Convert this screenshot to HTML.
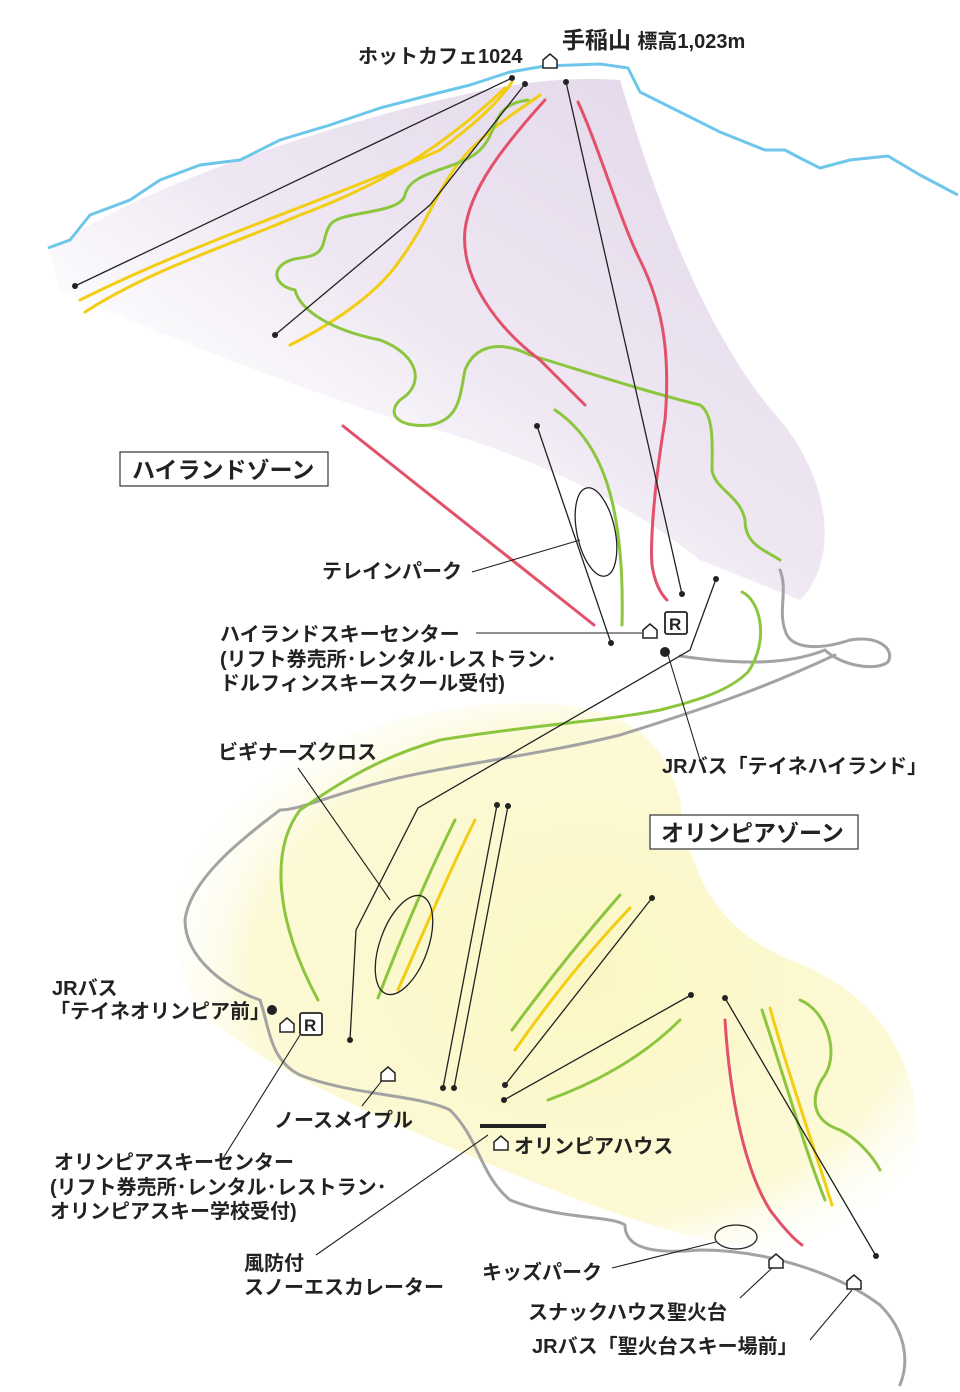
<!DOCTYPE html>
<html><head><meta charset="utf-8"><style>
html,body{margin:0;padding:0;background:#fff;}
svg{display:block;}
text{font-family:"Liberation Sans","Noto Sans CJK JP",sans-serif;font-weight:bold;fill:#222;}
</style></head><body>
<svg width="960" height="1392" viewBox="0 0 960 1392" xmlns="http://www.w3.org/2000/svg">
<defs>
<linearGradient id="pg" x1="0.9" y1="0.1" x2="0.1" y2="0.9">
<stop offset="0" stop-color="#e4d9eb"/><stop offset="0.5" stop-color="#efe8f3"/><stop offset="0.85" stop-color="#ffffff" stop-opacity="0.6"/><stop offset="1" stop-color="#ffffff" stop-opacity="0"/>
</linearGradient>
<radialGradient id="yg" cx="0.55" cy="0.5" r="0.6">
<stop offset="0" stop-color="#fbf7c4"/><stop offset="0.75" stop-color="#fcf9d6"/><stop offset="1" stop-color="#ffffff" stop-opacity="0"/>
</radialGradient>
</defs>
<path d="M50,250 C120,200 250,150 400,110 C480,90 540,75 620,80 C650,180 700,330 780,420 C830,480 840,560 800,600 L700,560 C600,480 480,440 400,420 C300,390 150,330 60,290 Z" fill="url(#pg)"/>
<path d="M190,860 C230,790 330,720 480,705 C600,695 660,720 680,800 C690,880 720,930 790,960 C870,990 915,1050 918,1130 C920,1200 880,1250 800,1250 C700,1250 600,1210 480,1160 C360,1110 250,1060 200,1010 C170,970 170,910 190,860 Z" fill="url(#yg)"/>
<polyline points="48,248 70,240 90,215 130,200 160,180 200,165 240,160 280,140 330,125 380,108 430,95 470,85 510,72 545,66 600,64 628,68 640,92 680,112 720,132 765,150 785,150 800,158 820,168 850,160 888,156 920,175 958,195" fill="none" stroke="#6ec6ea" stroke-width="3" stroke-linejoin="round"/>
<g fill="none" stroke="#a3a3a3" stroke-width="3" stroke-linecap="round">
<path d="M780,570 C788,590 778,610 785,630 C790,650 820,650 850,640 C880,635 895,650 888,662 C875,672 840,665 825,650 C800,660 760,668 680,656"/>
<path d="M835,655 C760,690 700,710 620,735 C540,755 450,765 390,780 C330,795 300,810 280,810 C240,840 190,880 185,920 C185,960 230,990 260,1000 C270,1030 270,1060 300,1075 C350,1095 420,1095 450,1110 C480,1140 480,1175 510,1200 C560,1220 610,1215 625,1225 C625,1245 645,1255 700,1250 C770,1250 840,1275 880,1305 C905,1330 910,1360 900,1385"/>
</g>
<g fill="none" stroke="#f2cd12" stroke-width="3" stroke-linecap="round">
<path d="M85,312 C150,270 230,245 300,215 C380,185 440,150 505,88"/>
<path d="M80,300 C200,240 330,200 440,150 C480,120 500,100 512,82"/>
<path d="M290,345 C340,320 380,290 400,260 C430,220 440,180 470,150 C500,120 520,110 540,95"/>
<path d="M398,990 C420,940 450,870 475,820"/>
<path d="M515,1050 C550,1000 590,950 630,908"/>
<path d="M770,1008 C790,1080 815,1150 832,1205"/>
</g>
<g fill="none" stroke="#8cc63f" stroke-width="3" stroke-linecap="round">
<path d="M528,100 C490,105 500,130 480,150 C460,170 410,170 405,195 C400,215 340,210 330,225 C320,240 330,255 300,258 C270,262 270,285 295,290 C300,310 330,330 380,340 C420,355 425,385 400,400 C385,415 400,428 430,425 C460,420 460,395 465,370 C475,345 500,340 530,355 C580,370 640,390 700,405 C715,415 712,450 712,470 C715,490 740,495 745,520 C745,545 765,550 780,560"/>
<path d="M555,410 C600,440 625,500 622,625"/>
<path d="M742,592 C760,600 770,640 748,672 C730,690 700,700 660,710 C600,722 530,725 440,740 C370,760 330,790 300,810 C270,850 275,920 318,1000"/>
<path d="M378,998 C400,940 430,870 455,820"/>
<path d="M512,1030 C545,985 585,935 620,895"/>
<path d="M548,1100 C590,1085 640,1060 680,1020"/>
<path d="M762,1010 C785,1080 805,1150 825,1200"/>
<path d="M800,1000 C825,1010 840,1050 825,1075 C810,1095 810,1120 840,1130 C860,1140 875,1160 880,1170"/>
</g>
<g fill="none" stroke="#e2506a" stroke-width="3" stroke-linecap="round">
<path d="M578,102 C600,150 620,220 640,260 C665,310 670,360 665,420 C655,480 650,540 652,565 C655,585 662,595 667,600"/>
<path d="M545,100 C500,150 470,190 465,230 C460,280 500,330 540,360 C560,380 575,395 585,405"/>
<path d="M343,426 L594,625"/>
<path d="M725,1020 C730,1100 745,1170 770,1210 C785,1230 795,1240 802,1245"/>
</g>
<g fill="none" stroke="#222" stroke-width="1.3">
<path d="M75,286 L512,78"/>
<path d="M275,335 L430,205 L525,84"/>
<path d="M566,82 L682,594"/>
<path d="M537,426 L611,643"/>
<path d="M716,579 L690,650 L418,808 L356,930 L350,1040"/>
<path d="M497,805 L443,1088"/><path d="M508,806 L454,1088"/>
<path d="M652,898 L505,1085"/>
<path d="M691,995 L504,1100"/>
<path d="M725,998 L876,1256"/>
</g>
<g fill="#222">
<circle cx="75" cy="286" r="3"/><circle cx="512" cy="78" r="3"/><circle cx="275" cy="335" r="3"/><circle cx="525" cy="84" r="3"/>
<circle cx="566" cy="82" r="3"/><circle cx="682" cy="594" r="3"/><circle cx="537" cy="426" r="3"/><circle cx="611" cy="643" r="3"/>
<circle cx="716" cy="579" r="3"/><circle cx="350" cy="1040" r="3"/><circle cx="497" cy="805" r="3"/><circle cx="508" cy="806" r="3"/>
<circle cx="443" cy="1088" r="3"/><circle cx="454" cy="1088" r="3"/><circle cx="652" cy="898" r="3"/><circle cx="505" cy="1085" r="3"/>
<circle cx="691" cy="995" r="3"/><circle cx="504" cy="1100" r="3"/><circle cx="725" cy="998" r="3"/><circle cx="876" cy="1256" r="3"/>
<circle cx="665" cy="652" r="5"/><circle cx="272" cy="1010" r="5"/>
</g>
<ellipse cx="596" cy="532" rx="19" ry="45" transform="rotate(-12 596 532)" fill="none" stroke="#222" stroke-width="1.3"/>
<ellipse cx="404" cy="945" rx="24" ry="52" transform="rotate(20 404 945)" fill="none" stroke="#222" stroke-width="1.3"/>
<ellipse cx="736" cy="1237" rx="21" ry="12" fill="none" stroke="#222" stroke-width="1.3"/>
<g stroke="#222" stroke-width="1.1" fill="none">
<path d="M472,572 L580,540"/>
<path d="M476,633 L642,633"/>
<path d="M668,655 L700,760"/>
<path d="M298,768 L390,900"/>
<path d="M222,1160 L300,1035"/>
<path d="M362,1106 L384,1078"/>
<path d="M316,1255 L488,1135"/>
<path d="M612,1268 L716,1242"/>
<path d="M740,1298 L772,1268"/>
<path d="M810,1340 L852,1290"/>
</g>
<rect x="480" y="1124" width="66" height="4" fill="#222"/>
<g fill="#fff" stroke="#222" stroke-width="1.5">
<path d="M543,68 L543,60 L550,54 L557,60 L557,68 Z"/>
<path d="M643,638 L643,630 L650,624 L657,630 L657,638 Z"/>
<path d="M280,1032 L280,1024 L287,1018 L294,1024 L294,1032 Z"/>
<path d="M381,1081 L381,1073 L388,1067 L395,1073 L395,1081 Z"/>
<path d="M494,1150 L494,1142 L501,1136 L508,1142 L508,1150 Z"/>
<path d="M769,1268 L769,1260 L776,1254 L783,1260 L783,1268 Z"/>
<path d="M847,1289 L847,1281 L854,1275 L861,1281 L861,1289 Z"/>
</g>
<g fill="#fff" stroke="#222" stroke-width="1.8">
<rect x="665" y="612" width="22" height="22" rx="2"/>
<rect x="300" y="1013" width="22" height="22" rx="2"/>
</g>
<text x="669" y="630" font-size="17">R</text>
<text x="304" y="1031" font-size="17">R</text>
<rect x="120" y="452" width="208" height="34" fill="#fff" stroke="#333" stroke-width="1.2"/>
<text x="132" y="478" font-size="23">ハイランドゾーン</text>
<rect x="650" y="815" width="208" height="34" fill="#fff" stroke="#333" stroke-width="1.2"/>
<text x="661" y="841" font-size="23">オリンピアゾーン</text>
<text x="358" y="63" font-size="20">ホットカフェ1024</text>
<text x="562" y="48" font-size="23">手稲山 <tspan font-size="20">標高1,023m</tspan></text>
<text x="322" y="578" font-size="20">テレインパーク</text>
<text x="220" y="641" font-size="20">ハイランドスキーセンター</text>
<text x="220" y="666" font-size="20" font-weight="normal">(リフト券売所･レンタル･レストラン･</text>
<text x="220" y="690" font-size="20" font-weight="normal">ドルフィンスキースクール受付)</text>
<text x="218" y="759" font-size="20">ビギナーズクロス</text>
<text x="662" y="773" font-size="20">JRバス「テイネハイランド」</text>
<text x="52" y="995" font-size="20">JRバス</text>
<text x="50" y="1018" font-size="20">「テイネオリンピア前」</text>
<text x="274" y="1127" font-size="20">ノースメイプル</text>
<text x="514" y="1153" font-size="20">オリンピアハウス</text>
<text x="54" y="1169" font-size="20">オリンピアスキーセンター</text>
<text x="50" y="1194" font-size="20" font-weight="normal">(リフト券売所･レンタル･レストラン･</text>
<text x="50" y="1218" font-size="20" font-weight="normal">オリンピアスキー学校受付)</text>
<text x="244" y="1270" font-size="20">風防付</text>
<text x="244" y="1294" font-size="20">スノーエスカレーター</text>
<text x="482" y="1279" font-size="20">キッズパーク</text>
<text x="528" y="1319" font-size="20">スナックハウス聖火台</text>
<text x="532" y="1353" font-size="20">JRバス「聖火台スキー場前」</text>
</svg>
</body></html>
